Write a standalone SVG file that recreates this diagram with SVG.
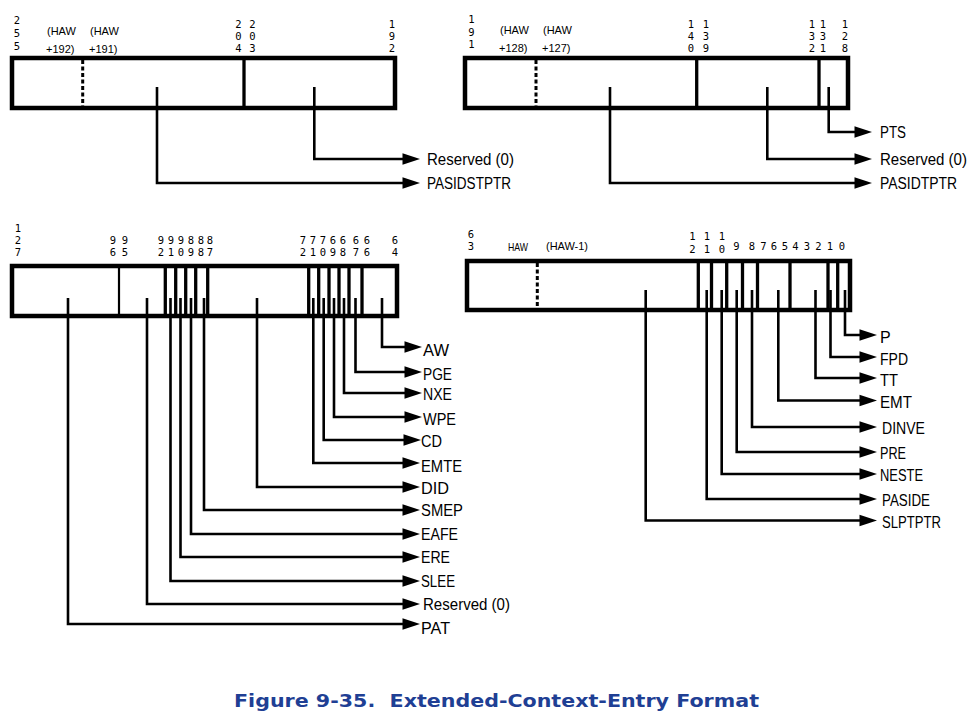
<svg xmlns="http://www.w3.org/2000/svg" width="977" height="715" viewBox="0 0 977 715">
<style>
.box{fill:#fff;stroke:#000;stroke-width:4.5}
.div{stroke:#000;stroke-width:3.3}
.thin{stroke:#000;stroke-width:2.2}
.dash{stroke:#000;stroke-width:3;stroke-dasharray:4 2.5}
.con{fill:none;stroke:#000;stroke-width:2.6}
.bit{font-family:"DejaVu Sans Mono","Liberation Mono",monospace;font-size:10.5px;fill:#000;text-anchor:middle}
.haw{font-family:"Liberation Sans",Arial,sans-serif;font-size:11px;fill:#000}
.lbl{font-family:"Liberation Sans",Arial,sans-serif;font-size:16px;fill:#000}
.title{font-family:"DejaVu Sans",Verdana,sans-serif;font-weight:bold;font-size:17px;fill:#1f3f94}
</style>
<defs>
<marker id="arr" markerUnits="userSpaceOnUse" markerWidth="20" markerHeight="14" viewBox="0 -6 16 12" refX="3" refY="0" orient="auto">
<path d="M0,-5 L15,0 L0,5 z" fill="#000"/>
</marker>
</defs>

<!-- Top-left entry: bits 255..192 -->
<g id="entry-255-192">
<rect class="box" x="12" y="58" width="383" height="50"/>
<line class="dash" x1="82.7" y1="60" x2="82.7" y2="106"/>
<line class="div" x1="244" y1="58" x2="244" y2="108"/>
<text class="bit" x="17" y="24">2<tspan x="17" dy="13">5</tspan><tspan x="17" dy="13">5</tspan></text>
<text class="haw" x="47" y="35">(HAW</text><text class="haw" x="46" y="53">+192)</text>
<text class="haw" x="90" y="35">(HAW</text><text class="haw" x="89" y="53">+191)</text>
<text class="bit" x="238.5" y="28">2<tspan x="238.5" dy="12">0</tspan><tspan x="238.5" dy="12">4</tspan></text>
<text class="bit" x="252.5" y="28">2<tspan x="252.5" dy="12">0</tspan><tspan x="252.5" dy="12">3</tspan></text>
<text class="bit" x="392" y="28">1<tspan x="392" dy="12">9</tspan><tspan x="392" dy="12">2</tspan></text>
</g>

<!-- Top-right entry: bits 191..128 -->
<g id="entry-191-128">
<rect class="box" x="465" y="58" width="383" height="50"/>
<line class="dash" x1="536" y1="60" x2="536" y2="106"/>
<line class="div" x1="696.7" y1="58" x2="696.7" y2="108"/>
<line class="div" x1="819" y1="58" x2="819" y2="108"/>
<text class="bit" x="471.5" y="23">1<tspan x="471.5" dy="12.5">9</tspan><tspan x="471.5" dy="12.5">1</tspan></text>
<text class="haw" x="500" y="34">(HAW</text><text class="haw" x="499" y="52">+128)</text>
<text class="haw" x="543" y="34">(HAW</text><text class="haw" x="542" y="52">+127)</text>
<text class="bit" x="691" y="28">1<tspan x="691" dy="12">4</tspan><tspan x="691" dy="12">0</tspan></text>
<text class="bit" x="706" y="28">1<tspan x="706" dy="12">3</tspan><tspan x="706" dy="12">9</tspan></text>
<text class="bit" x="812" y="28">1<tspan x="812" dy="12">3</tspan><tspan x="812" dy="12">2</tspan></text>
<text class="bit" x="823" y="28">1<tspan x="823" dy="12">3</tspan><tspan x="823" dy="12">1</tspan></text>
<text class="bit" x="845" y="28">1<tspan x="845" dy="12">2</tspan><tspan x="845" dy="12">8</tspan></text>
</g>

<!-- Bottom-left entry: bits 127..64 -->
<g id="entry-127-64">
<rect class="box" x="12" y="266" width="385" height="50"/>
<line class="thin" x1="119" y1="266" x2="119" y2="316"/>
<line class="div" x1="165.3" y1="266" x2="165.3" y2="316"/>
<line class="div" x1="175.7" y1="266" x2="175.7" y2="316"/>
<line class="div" x1="185.7" y1="266" x2="185.7" y2="316"/>
<line class="div" x1="195.7" y1="266" x2="195.7" y2="316"/>
<line class="div" x1="207.7" y1="266" x2="207.7" y2="316"/>
<line class="div" x1="308.7" y1="266" x2="308.7" y2="316"/>
<line class="div" x1="318.7" y1="266" x2="318.7" y2="316"/>
<line class="div" x1="329" y1="266" x2="329" y2="316"/>
<line class="div" x1="339" y1="266" x2="339" y2="316"/>
<line class="div" x1="349" y1="266" x2="349" y2="316"/>
<line class="div" x1="362" y1="266" x2="362" y2="316"/>
<text class="bit" x="18" y="232">1<tspan x="18" dy="12">2</tspan><tspan x="18" dy="12">7</tspan></text>
<text class="bit" x="113" y="244">9<tspan x="113" dy="12">6</tspan></text>
<text class="bit" x="125" y="244">9<tspan x="125" dy="12">5</tspan></text>
<text class="bit" x="161" y="244">9<tspan x="161" dy="12">2</tspan></text>
<text class="bit" x="171" y="244">9<tspan x="171" dy="12">1</tspan></text>
<text class="bit" x="181" y="244">9<tspan x="181" dy="12">0</tspan></text>
<text class="bit" x="191" y="244">8<tspan x="191" dy="12">9</tspan></text>
<text class="bit" x="201" y="244">8<tspan x="201" dy="12">8</tspan></text>
<text class="bit" x="210" y="244">8<tspan x="210" dy="12">7</tspan></text>
<text class="bit" x="303" y="244">7<tspan x="303" dy="12">2</tspan></text>
<text class="bit" x="313" y="244">7<tspan x="313" dy="12">1</tspan></text>
<text class="bit" x="323" y="244">7<tspan x="323" dy="12">0</tspan></text>
<text class="bit" x="333" y="244">6<tspan x="333" dy="12">9</tspan></text>
<text class="bit" x="343" y="244">6<tspan x="343" dy="12">8</tspan></text>
<text class="bit" x="356" y="244">6<tspan x="356" dy="12">7</tspan></text>
<text class="bit" x="367" y="244">6<tspan x="367" dy="12">6</tspan></text>
<text class="bit" x="395" y="244">6<tspan x="395" dy="12">4</tspan></text>
</g>

<!-- Bottom-right entry: bits 63..0 -->
<g id="entry-63-0">
<rect class="box" x="467" y="261" width="383" height="49"/>
<line class="dash" x1="537.3" y1="263" x2="537.3" y2="308"/>
<line class="div" x1="698.3" y1="261" x2="698.3" y2="310"/>
<line class="div" x1="711.5" y1="261" x2="711.5" y2="310"/>
<line class="div" x1="726.7" y1="261" x2="726.7" y2="310"/>
<line class="div" x1="742.5" y1="261" x2="742.5" y2="310"/>
<line class="div" x1="757.5" y1="261" x2="757.5" y2="310"/>
<line class="div" x1="790" y1="261" x2="790" y2="310"/>
<line class="div" x1="828" y1="261" x2="828" y2="310"/>
<line class="div" x1="837.7" y1="261" x2="837.7" y2="310"/>
<text class="bit" x="471" y="238">6<tspan x="471" dy="12">3</tspan></text>
<text class="haw" x="508" y="250.5" font-size="12" textLength="20" lengthAdjust="spacingAndGlyphs">HAW</text>
<text class="haw" x="546" y="250" font-size="10.5" textLength="42" lengthAdjust="spacingAndGlyphs">(HAW-1)</text>
<text class="bit" x="692.5" y="240">1<tspan x="692.5" dy="13">2</tspan></text>
<text class="bit" x="707" y="240">1<tspan x="707" dy="13">1</tspan></text>
<text class="bit" x="722" y="240">1<tspan x="722" dy="13">0</tspan></text>
<text class="bit" x="736.5" y="250">9</text>
<text class="bit" x="752" y="250">8</text>
<text class="bit" x="763.5" y="250">7</text>
<text class="bit" x="774" y="250">6</text>
<text class="bit" x="785" y="250">5</text>
<text class="bit" x="795.5" y="250">4</text>
<text class="bit" x="807" y="250">3</text>
<text class="bit" x="818.5" y="250">2</text>
<text class="bit" x="830" y="250">1</text>
<text class="bit" x="842" y="250">0</text>
</g>

<!-- Connectors -->
<g id="connectors">
<path class="con" marker-end="url(#arr)" d="M314.3,87 V159 H406"/>
<path class="con" marker-end="url(#arr)" d="M157,87 V183 H406"/>
<path class="con" marker-end="url(#arr)" d="M828.7,87 V132 H858"/>
<path class="con" marker-end="url(#arr)" d="M767.3,87 V159 H858"/>
<path class="con" marker-end="url(#arr)" d="M610,87 V183 H858"/>

<path class="con" marker-end="url(#arr)" d="M382,298 V347 H408"/>
<path class="con" marker-end="url(#arr)" d="M355.5,298 V372 H408"/>
<path class="con" marker-end="url(#arr)" d="M344,298 V393 H408"/>
<path class="con" marker-end="url(#arr)" d="M334,298 V417 H408"/>
<path class="con" marker-end="url(#arr)" d="M323.7,298 V440 H407"/>
<path class="con" marker-end="url(#arr)" d="M313.3,298 V463 H406"/>
<path class="con" marker-end="url(#arr)" d="M257,298 V487 H406"/>
<path class="con" marker-end="url(#arr)" d="M204,298 V510 H406"/>
<path class="con" marker-end="url(#arr)" d="M191,298 V534 H406"/>
<path class="con" marker-end="url(#arr)" d="M180.5,298 V557 H406"/>
<path class="con" marker-end="url(#arr)" d="M170.5,298 V581 H406"/>
<path class="con" marker-end="url(#arr)" d="M147,298 V604 H406"/>
<path class="con" marker-end="url(#arr)" d="M68,298 V624 H406"/>

<path class="con" marker-end="url(#arr)" d="M845,290 V335 H863"/>
<path class="con" marker-end="url(#arr)" d="M830.5,290 V357 H863"/>
<path class="con" marker-end="url(#arr)" d="M815.5,290 V378 H863"/>
<path class="con" marker-end="url(#arr)" d="M778.3,290 V400.5 H863"/>
<path class="con" marker-end="url(#arr)" d="M752,290 V427 H863"/>
<path class="con" marker-end="url(#arr)" d="M736.7,290 V452 H863"/>
<path class="con" marker-end="url(#arr)" d="M721.7,290 V474 H863"/>
<path class="con" marker-end="url(#arr)" d="M706.7,290 V499 H863"/>
<path class="con" marker-end="url(#arr)" d="M645.7,290 V520.5 H863"/>
</g>

<!-- Field labels -->
<g id="labels-255-192">
<text class="lbl" x="427" y="165" textLength="87" lengthAdjust="spacingAndGlyphs">Reserved (0)</text>
<text class="lbl" x="427" y="189" textLength="84" lengthAdjust="spacingAndGlyphs">PASIDSTPTR</text>
</g>
<g id="labels-191-128">
<text class="lbl" x="880" y="138" textLength="26" lengthAdjust="spacingAndGlyphs">PTS</text>
<text class="lbl" x="880" y="165" textLength="87" lengthAdjust="spacingAndGlyphs">Reserved (0)</text>
<text class="lbl" x="880" y="189" textLength="77" lengthAdjust="spacingAndGlyphs">PASIDTPTR</text>
</g>
<g id="labels-127-64">
<text class="lbl" x="423" y="356" textLength="26" lengthAdjust="spacingAndGlyphs">AW</text>
<text class="lbl" x="423" y="380" textLength="29" lengthAdjust="spacingAndGlyphs">PGE</text>
<text class="lbl" x="423" y="400" textLength="29" lengthAdjust="spacingAndGlyphs">NXE</text>
<text class="lbl" x="423" y="425" textLength="33" lengthAdjust="spacingAndGlyphs">WPE</text>
<text class="lbl" x="421" y="447" textLength="21" lengthAdjust="spacingAndGlyphs">CD</text>
<text class="lbl" x="421" y="472" textLength="41" lengthAdjust="spacingAndGlyphs">EMTE</text>
<text class="lbl" x="421" y="494" textLength="28" lengthAdjust="spacingAndGlyphs">DID</text>
<text class="lbl" x="421" y="516" textLength="42" lengthAdjust="spacingAndGlyphs">SMEP</text>
<text class="lbl" x="421" y="540" textLength="37" lengthAdjust="spacingAndGlyphs">EAFE</text>
<text class="lbl" x="421" y="563" textLength="29" lengthAdjust="spacingAndGlyphs">ERE</text>
<text class="lbl" x="421" y="587" textLength="34" lengthAdjust="spacingAndGlyphs">SLEE</text>
<text class="lbl" x="423" y="610" textLength="87" lengthAdjust="spacingAndGlyphs">Reserved (0)</text>
<text class="lbl" x="421" y="634" textLength="29" lengthAdjust="spacingAndGlyphs">PAT</text>
</g>
<g id="labels-63-0">
<text class="lbl" x="880" y="343">P</text>
<text class="lbl" x="880" y="365" textLength="28" lengthAdjust="spacingAndGlyphs">FPD</text>
<text class="lbl" x="880" y="386" textLength="18" lengthAdjust="spacingAndGlyphs">TT</text>
<text class="lbl" x="880" y="408" textLength="32" lengthAdjust="spacingAndGlyphs">EMT</text>
<text class="lbl" x="882" y="434" textLength="43" lengthAdjust="spacingAndGlyphs">DINVE</text>
<text class="lbl" x="880" y="459" textLength="26" lengthAdjust="spacingAndGlyphs">PRE</text>
<text class="lbl" x="880" y="481" textLength="43" lengthAdjust="spacingAndGlyphs">NESTE</text>
<text class="lbl" x="882" y="506" textLength="48" lengthAdjust="spacingAndGlyphs">PASIDE</text>
<text class="lbl" x="882" y="528" textLength="59" lengthAdjust="spacingAndGlyphs">SLPTPTR</text>
</g>

<text id="caption" class="title" x="234" y="707" textLength="525" lengthAdjust="spacingAndGlyphs">Figure 9-35.&#160; Extended-Context-Entry Format</text>
</svg>
